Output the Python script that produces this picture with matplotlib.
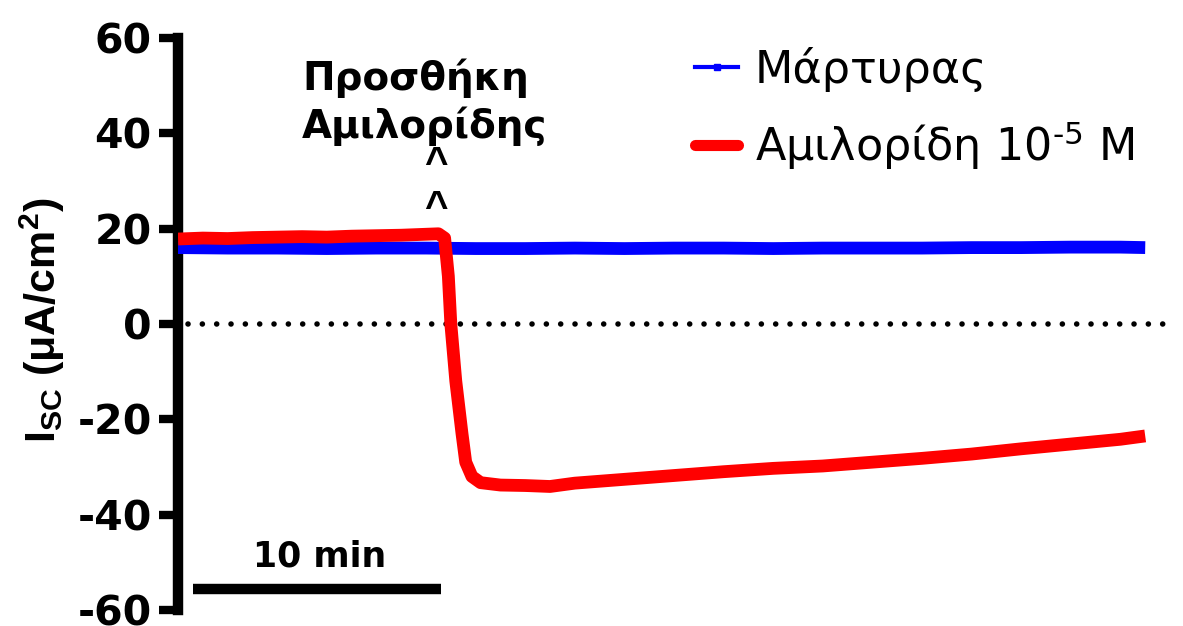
import numpy as np
import matplotlib
matplotlib.use('Agg')
import matplotlib.pyplot as plt
from matplotlib.lines import Line2D

plt.rcParams['axes.unicode_minus'] = False

# Dane (czas w minutach, Isc w uA/cm2)
t_control = [0, 2, 4, 6, 8, 10, 12, 14, 16, 18, 20, 22, 24, 26, 28, 30, 32, 34, 36, 38, 39]
isc_control = [16.0, 15.9, 15.9, 15.8, 15.9, 15.9, 15.8, 15.8, 15.9, 15.8, 15.9, 15.9, 15.8,
               15.9, 15.9, 15.9, 16.0, 16.0, 16.1, 16.1, 16.0]

t_amil = [0, 1, 2, 3, 4, 5, 6, 7, 8, 9, 10, 10.5, 10.75, 10.9, 11.0, 11.2, 11.45, 11.6,
          11.85, 12.2, 13, 14, 15, 16, 18, 20, 22, 24, 26, 28, 30, 32, 34, 36, 38, 39]
isc_amil = [17.8, 18.0, 17.9, 18.1, 18.2, 18.3, 18.2, 18.4, 18.5, 18.6, 18.8, 18.9, 18.0,
            10.0, 0.0, -12.0, -23.0, -29.0, -32.0, -33.3, -33.8, -33.9, -34.1, -33.4,
            -32.6, -31.8, -31.0, -30.3, -29.8, -29.0, -28.2, -27.3, -26.2, -25.2, -24.2, -23.5]

y_ticks = [-60, -40, -20, 0, 20, 40, 60]
scale_bar = [0.6, 10.6]  # 10 min
t_addition = 10.4

fig = plt.figure(figsize=(11.83, 6.26), dpi=100)
ax = fig.add_axes([0.1505, 0.0256, 0.849, 0.914])

ax.plot(t_control, isc_control, color='#0000FF', linewidth=9.2, solid_capstyle='butt', zorder=3)
ax.plot(t_amil, isc_amil, color='#FF0000', linewidth=9.2, solid_capstyle='butt',
        solid_joinstyle='round', zorder=4)

# linia zero (kropkowana)
ax.axhline(0, xmin=0.01, xmax=0.995, color='black', linewidth=4,
           linestyle=(0, (0.01, 2.57)), dash_capstyle='round', zorder=2)

# pasek skali czasu
ax.plot(scale_bar, [-55.7, -55.7], color='black', linewidth=7.5, solid_capstyle='butt')
ax.text(np.mean(scale_bar) + 0.1, -50.9, '10 min', ha='center', va='baseline',
        fontsize=25, fontweight='bold', family='DejaVu Sans')

# adnotacja dodania amilorydu
ax.text(5.0, 49.0, 'Προσθήκη', ha='left', va='baseline', fontsize=28, fontweight='bold',
        family='DejaVu Sans')
ax.text(5.0, 39.0, 'Αμιλορίδης', ha='left', va='baseline', fontsize=28, fontweight='bold',
        family='DejaVu Sans')
ax.text(t_addition, 31.2, '^', ha='center', va='baseline', fontsize=29, fontweight='bold',
        family='Liberation Sans')
ax.text(t_addition, 22.0, '^', ha='center', va='baseline', fontsize=29, fontweight='bold',
        family='Liberation Sans')

ax.set_xlim(0, 40.5)
ax.set_ylim(-60, 60)
ax.set_yticks(y_ticks)
ax.set_xticks([])
for s in ['top', 'right', 'bottom']:
    ax.spines[s].set_visible(False)
ax.spines['left'].set_linewidth(7.5)
ax.tick_params(axis='y', width=6, length=14, pad=5, labelsize=29.5)
for lab in ax.get_yticklabels():
    lab.set_fontweight('bold')
    lab.set_family('DejaVu Sans')

fig.text(0.036, 0.489, r'$\mathregular{I_{SC}}$ (μA/cm$\mathregular{^2}$)', rotation=90,
         ha='center', va='center', fontsize=31, fontweight='bold', family='Liberation Sans')

handles = [Line2D([], [], color='#0000FF', linewidth=3, marker='s', markersize=5),
           Line2D([], [], color='#FF0000', linewidth=8, solid_capstyle='round')]
labels = ['Μάρτυρας', 'Αμιλορίδη 10$\\mathregular{^{\u20105}}$ Μ']
ax.legend(handles, labels, loc='upper left', bbox_to_anchor=(695 / 1183, 1 - 47 / 626),
          bbox_transform=fig.transFigure, frameon=False, handlelength=0.97,
          handletextpad=0.38, labelspacing=0.6, borderpad=0, borderaxespad=0,
          prop={'family': 'DejaVu Sans', 'size': 32})

fig.savefig('out.png', dpi=100, facecolor='white')
